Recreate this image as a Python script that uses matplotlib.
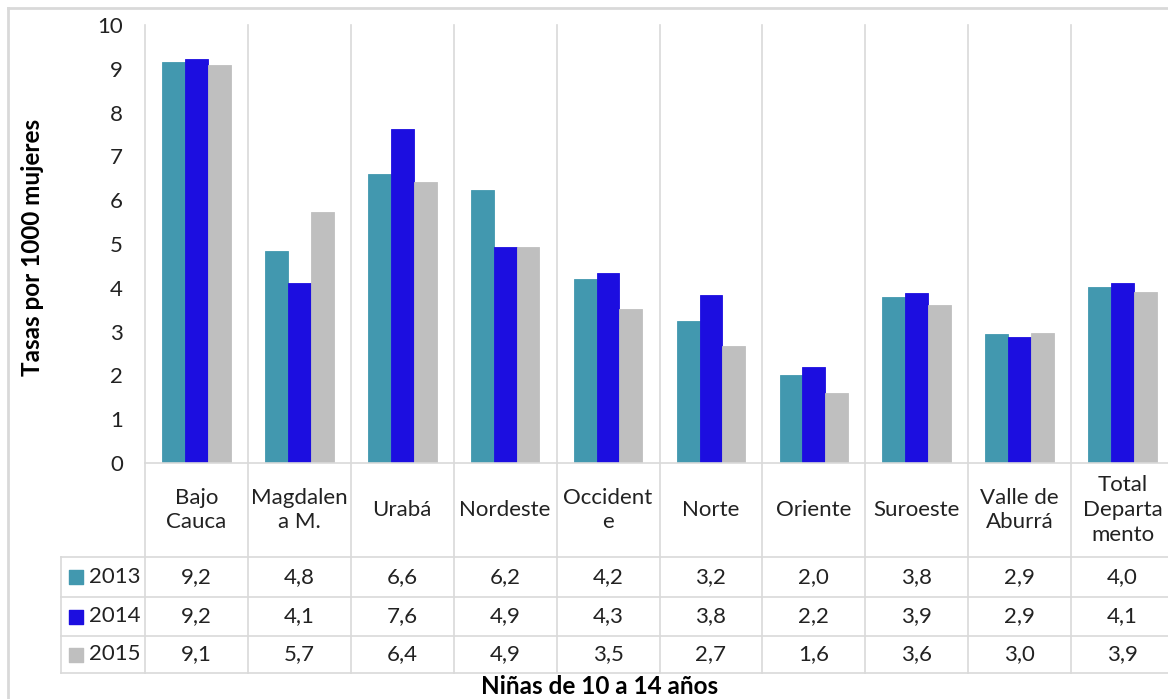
import matplotlib.pyplot as plt
import matplotlib.transforms as mtransforms
import numpy as np

plt.rcParams['font.family'] = ['Lato', 'DejaVu Sans']

regiones = ['Bajo\nCauca', 'Magdalen\na M.', 'Urabá', 'Nordeste', 'Occident\ne',
            'Norte', 'Oriente', 'Suroeste', 'Valle de\nAburrá', 'Total\nDeparta\nmento']
anios = ['2013', '2014', '2015']
tasa_2013 = [9.16, 4.84, 6.60, 6.24, 4.20, 3.24, 2.01, 3.79, 2.94, 4.02]
tasa_2014 = [9.22, 4.11, 7.63, 4.93, 4.34, 3.84, 2.19, 3.88, 2.88, 4.11]
tasa_2015 = [9.09, 5.73, 6.42, 4.93, 3.52, 2.67, 1.60, 3.61, 2.97, 3.90]
colores = ['#4298AF', '#1C0EE0', '#BFBFBF']

W, H = 1168, 699
fig = plt.figure(figsize=(W / 100, H / 100), dpi=100)

# plot area in pixels: x 145 -> 1174, y 25 -> 463
x0, x1, ytop, ybot = 145, 1174, 25, 463
ax = fig.add_axes([x0 / W, 1 - ybot / H, (x1 - x0) / W, (ybot - ytop) / H])

series = [tasa_2013, tasa_2014, tasa_2015]
n = len(regiones)
x = np.arange(n)
bw = 0.222
for k, vals in enumerate(series):
    ax.bar(x + (k - 1) * bw, vals, bw, color=colores[k], edgecolor=colores[k],
           linewidth=0.6, zorder=3)

fs = 16
txt = '#222222'
ax.set_xlim(-0.5, n - 0.5)
ax.set_ylim(0, 10)
ax.set_yticks(range(0, 11))
ax.tick_params(axis='y', length=0, labelsize=fs, pad=16, colors=txt)
ax.set_xticks([])
for s in ax.spines.values():
    s.set_visible(False)

grid = '#D9D9D9'
# table geometry (axes fraction, below the plot)
ph = ybot - ytop
r_head = -(557 - ybot) / ph
r1 = -(597 - ybot) / ph
r2 = -(636 - ybot) / ph
r3 = -(673 - ybot) / ph
trans = mtransforms.blended_transform_factory(ax.transData, ax.transAxes)
left_px = 61
left_data = -0.5 - (x0 - left_px) / ((x1 - x0) / n)

for b in np.arange(-0.5, n, 1.0):
    ax.plot([b, b], [1, r3], color=grid, lw=1.2, transform=trans, clip_on=False, zorder=1)
ax.plot([-0.5, n - 0.5], [0, 0], color=grid, lw=1.2, transform=trans, clip_on=False, zorder=4)
for yy in [r_head, r1, r2, r3]:
    ax.plot([left_data, n - 0.5], [yy, yy], color=grid, lw=1.2, transform=trans, clip_on=False)
ax.plot([left_data, left_data], [r_head, r3], color=grid, lw=1.2, transform=trans, clip_on=False)

for i, reg in enumerate(regiones):
    ax.text(i, r_head / 2, reg, ha='center', va='center', fontsize=fs,
            color=txt, transform=trans, linespacing=1.3)

filas = [(r_head + r1) / 2, (r1 + r2) / 2, (r2 + r3) / 2]
for k, vals in enumerate(series):
    yy = filas[k]
    for i, v in enumerate(vals):
        ax.text(i, yy, f'{v:.1f}'.replace('.', ','), ha='center', va='center',
                fontsize=fs, color=txt, transform=trans)
    ax.scatter([left_data + 0.148], [yy], marker='s', s=105, color=colores[k],
               transform=trans, clip_on=False)
    ax.text(left_data + 0.275, yy, anios[k], ha='left', va='center', fontsize=fs,
            color=txt, transform=trans)

fig.text(33 / W, 1 - 247 / H, 'Tasas por 1000 mujeres', rotation=90, ha='center',
         va='center', fontsize=17.5, fontweight='bold')
fig.text(600 / W, 1 - 686 / H, 'Niñas de 10 a 14 años', ha='center', va='center',
         fontsize=17.5, fontweight='bold')

# chart area border
fig.add_artist(plt.Line2D([8 / W, 1], [1 - 8 / H, 1 - 8 / H], color=grid, lw=2))
fig.add_artist(plt.Line2D([8 / W, 8 / W], [1 - 8 / H, 0], color=grid, lw=2))

fig.savefig('out.png', dpi=100)
